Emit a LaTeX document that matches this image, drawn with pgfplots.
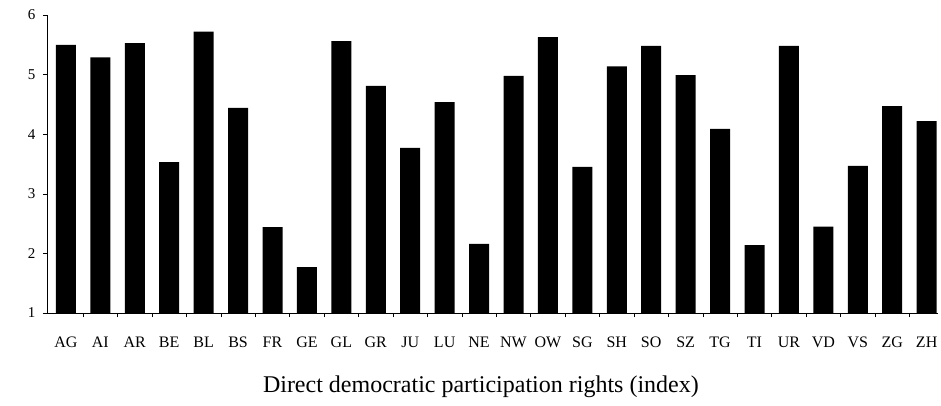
\documentclass[border=0pt]{standalone}
\usepackage{fontspec}
\setmainfont{Liberation Serif}
\usepackage{pgfplots}
\pgfplotsset{compat=1.18}
\usepackage{pgfplotstable}
\pgfplotstableread{
x y
0 5.50
1 5.29
2 5.53
3 3.53
4 5.72
5 4.44
6 2.44
7 1.77
8 5.56
9 4.81
10 3.77
11 4.54
12 2.16
13 4.98
14 5.63
15 3.45
16 5.14
17 5.48
18 4.99
19 4.09
20 2.14
21 5.48
22 2.45
23 3.47
24 4.47
25 4.22
}\datatable
\begin{document}
\begin{tikzpicture}
\useasboundingbox (-47pt,-92pt) rectangle (894pt,313pt);
\begin{axis}[
  scale only axis, width=891pt, height=298pt,
  xmin=-0.55, xmax=25.33, ymin=1, ymax=6,
  axis x line*=bottom, axis y line*=left,
  axis line style={line width=0.8pt, black, -},
  ybar, bar width=20pt,
  xtick={0,...,25},
  xticklabels={AG,AI,AR,BE,BL,BS,FR,GE,GL,GR,JU,LU,NE,NW,OW,SG,SH,SO,SZ,TG,TI,UR,VD,VS,ZG,ZH},
  ytick={1,...,6},
  minor xtick={0.5,1.5,...,24.5},
  minor ytick={1,...,6},
  major tick length=0pt,
  minor tick length=4pt,
  tick align=outside,
  minor tick style={black, line width=0.6pt},
  /pgf/number format/assume math mode=true,
  xticklabel style={font=\fontsize{16}{16}\selectfont, anchor=base, yshift=-34pt},
  yticklabel style={font=\fontsize{15}{15}\selectfont, xshift=-8pt},
  xlabel={Direct democratic participation rights (index)},
  xlabel style={font=\fontsize{24}{24}\selectfont, anchor=base, at={(axis description cs:0.487,0)}, yshift=-79pt},
]
\addplot[fill=black, draw=none] table[x=x, y=y] {\datatable};
\end{axis}
\end{tikzpicture}
\end{document}
